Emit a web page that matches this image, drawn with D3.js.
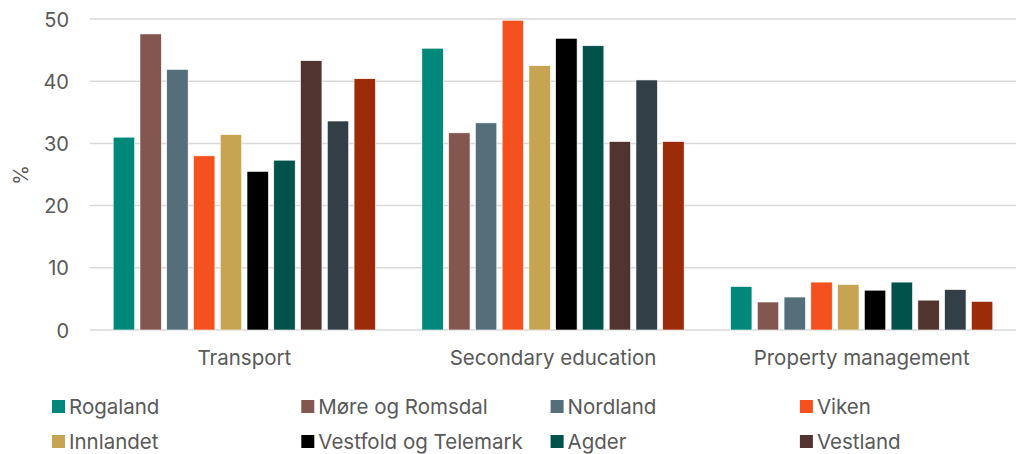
<!DOCTYPE html>
<html>
<head>
  <style>
    body { margin: 0; background: #fff; }
    text { font-family: Inter, "Noto Sans", sans-serif; fill: #595959; }
  </style>
</head>
<body>
<svg id="chart" width="1017" height="454"></svg>
<script src="https://cdn.jsdelivr.net/npm/d3@7"></script>
<script>
  // data
  const categories = ["Transport", "Secondary education", "Property management"];
  const regions = ["Rogaland", "Møre og Romsdal", "Nordland", "Viken", "Innlandet",
    "Vestfold og Telemark", "Agder", "Vestland", "Trøndelag", "Troms og Finnmark"];
  const colors = ["#00897a", "#835650", "#546e7a", "#f4511e", "#c6a452",
    "#000000", "#00524a", "#513430", "#323f47", "#9c2b09"];
  const transport = [31.0, 47.6, 41.9, 28.0, 31.4, 25.5, 27.3, 43.3, 33.6, 40.4];
  const secondary = [45.3, 31.7, 33.3, 49.8, 42.5, 46.9, 45.7, 30.3, 40.2, 30.3];
  const property = [7.0, 4.5, 5.3, 7.7, 7.3, 6.4, 7.7, 4.8, 6.5, 4.6];
  const yTicks = [0, 10, 20, 30, 40, 50];
  // only the first two legend rows fit inside the picture
  const legendShown = regions.slice(0, 8);

  const series = [transport, secondary, property];
  const rows = categories.map((c, i) => ({
    cat: c,
    vals: regions.map((r, j) => ({ region: r, value: series[i][j], color: colors[j] }))
  }));

  const svg = d3.select("#chart");
  const plotLeft = 90, plotRight = 1016, plotTop = 19, plotBottom = 330;

  let y = d3.scaleLinear().domain([0, 50]).range([plotBottom, plotTop]);
  let x0 = d3.scaleBand().domain(categories).range([plotLeft, plotRight]).padding(0);
  let x1 = d3.scaleBand().domain(regions)
    .range([23.2, x0.bandwidth() - 23.2]).paddingInner(0.2);

  // gridlines
  svg.append("g")
    .selectAll("line")
    .data(yTicks)
    .join("line")
    .attr("x1", plotLeft).attr("x2", plotRight)
    .attr("y1", d => y(d)).attr("y2", d => y(d))
    .style("stroke", "#d9d9d9")
    .style("stroke-width", 1.5);

  // y axis labels
  let yAxis = d3.axisLeft(y).tickValues(yTicks).tickSize(0).tickPadding(0);
  svg.append("g")
    .attr("transform", "translate(69,0)")
    .call(yAxis)
    .call(g => g.select(".domain").remove())
    .selectAll("text")
    .style("font-size", "20px")
    .attr("fill", "#595959")
    .attr("dy", "0.35em");

  svg.append("text")
    .attr("transform", "translate(28,175) rotate(-90)")
    .attr("text-anchor", "middle")
    .style("font-size", "20px")
    .text("%");

  // bars
  let groups = svg.append("g")
    .selectAll("g")
    .data(rows)
    .join("g")
    .attr("transform", d => `translate(${x0(d.cat)},0)`);

  groups.selectAll("rect")
    .data(d => d.vals)
    .join("rect")
    .attr("x", d => x1(d.region))
    .attr("width", x1.bandwidth())
    .attr("y", d => y(d.value))
    .attr("height", d => plotBottom - y(d.value))
    .style("fill", d => d.color)
    .style("stroke", "#fff")
    .style("stroke-width", 0.6);

  // x axis labels
  let xAxis = d3.axisBottom(x0).tickSize(0).tickPadding(0);
  svg.append("g")
    .attr("transform", `translate(0,${plotBottom})`)
    .call(xAxis)
    .call(g => g.select(".domain").remove())
    .selectAll("text")
    .style("font-size", "20.5px")
    .attr("fill", "#595959")
    .attr("y", 20)
    .attr("dy", "0.71em");

  // legend, 4 per row
  let legend = svg.append("g")
    .selectAll("g")
    .data(legendShown)
    .join("g")
    .attr("transform", (d, i) => `translate(${52 + (i % 4) * 249.3},${400 + Math.floor(i / 4) * 35})`);

  legend.append("rect")
    .attr("width", 13).attr("height", 13)
    .style("fill", (d, i) => colors[i]);

  legend.append("text")
    .attr("x", 17).attr("y", 6.5)
    .attr("dy", "0.35em")
    .style("font-size", "20.5px")
    .text(d => d);
</script>
</body>
</html>
